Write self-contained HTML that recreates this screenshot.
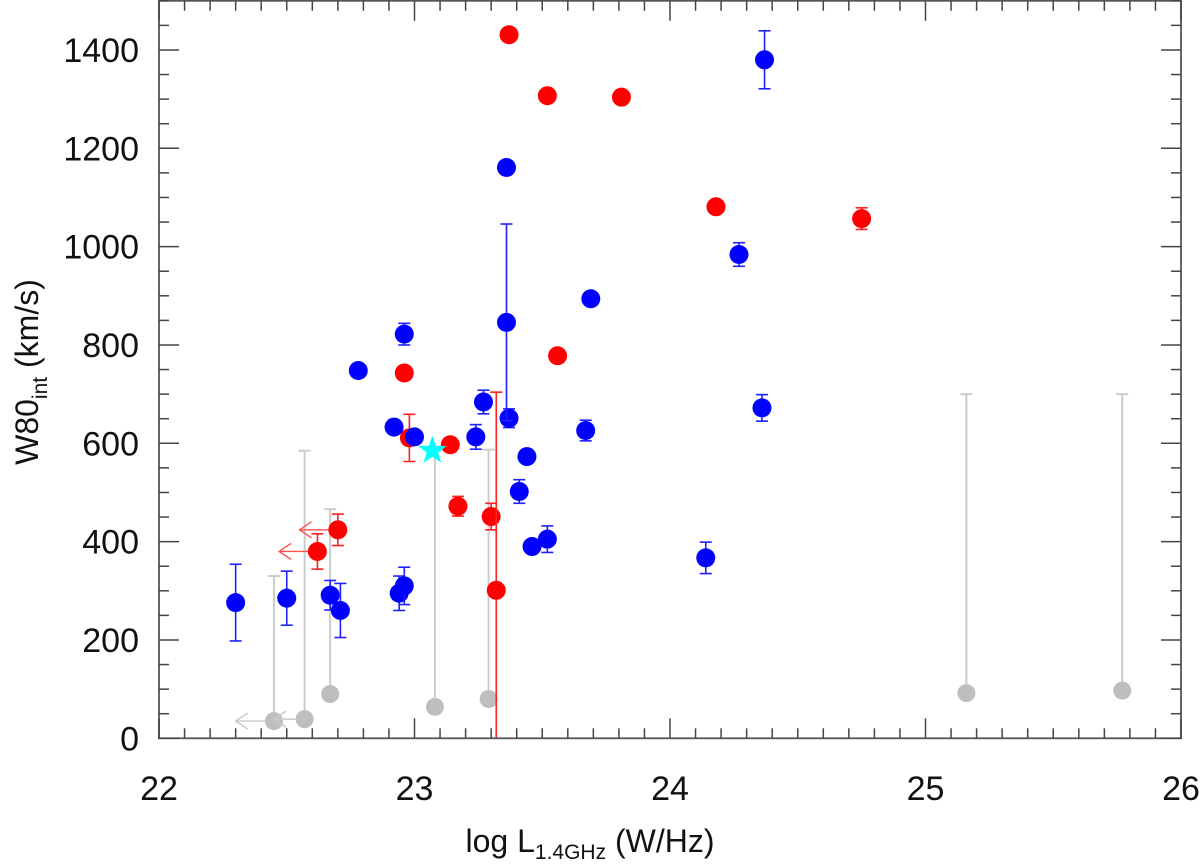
<!DOCTYPE html>
<html><head><meta charset="utf-8"><style>
body{margin:0;background:#fff;}
svg{display:block;font-family:"Liberation Sans",Arial,sans-serif;}
</style></head><body>
<svg id="chart" width="1200" height="866" viewBox="0 0 1200 866">
<g id="marks"></g>
<g id="axes"></g>
<text x="590" y="852" font-size="32" text-anchor="middle" fill="#111">log L<tspan font-size="21" dy="7">1.4GHz</tspan><tspan dy="-7"> (W/Hz)</tspan></text>
<text transform="translate(38,372) rotate(-90)" font-size="32" text-anchor="middle" fill="#111">W80<tspan font-size="21" dy="9">int</tspan><tspan dy="-9"> (km/s)</tspan></text>
</svg>
<script>
const blueX=[22.30,22.50,22.67,22.71,22.78,22.96,22.92,23.00,23.24,23.27,23.37,23.36,23.44,23.41,23.46,23.52,22.94,22.96,23.67,24.14,23.36,23.69,24.27,24.37,24.36];
const blueY=[276,285,291,260,748,822,633,613,613,684,651,846,573,502,390,405,295,310,626,367,1161,894,984,1380,672];
const blueErr=[78,55,30,55,0,22,12,0,25,24,19,200,0,24,12,27,35,38,21,32,0,0,24,59,27];
const redX=[22.96,22.98,23.14,23.17,23.30,23.32,22.70,22.62,23.37,23.52,23.81,24.18,23.56,24.75];
const redY=[743,611,597,472,451,301,424,380,1431,1307,1304,1081,778,1057];
const redErr=[0,48,0,20,27,403,32,36,0,0,0,0,0,22];
const redLimitTo=[0,0,0,0,0,0,22.55,22.47,0,0,0,0,0,0];
const grayX=[22.45,22.57,22.67,23.08,23.29,25.16,25.77];
const grayY=[35,39,90,64,80,92,97];
const grayUpper=[330,585,466,585,587,700,700];
const grayLimitTo=[22.30,22.45,0,0,0,0,0];
const starX=[23.07];
const starY=[585];
const xTicks=[22,23,24,25,26];
const yTicks=[0,200,400,600,800,1000,1200,1400];

const X0=159,X1=1181,Y0=738.3,Y1=0.8;
const xs=v=>X0+(v-22)/4*(X1-X0);
const ys=v=>Y0-(v-0)/1500*(Y0-Y1);
const NS="http://www.w3.org/2000/svg";
const marks=document.getElementById('marks'), axes=document.getElementById('axes');
function mk(tag,attrs,parent){const e=document.createElementNS(NS,tag);for(const k in attrs)e.setAttribute(k,attrs[k]);parent.appendChild(e);return e;}
function ebar(x,lo,hi,col,cap,name,w){
  const g=mk('g',{},marks);
  
  
  mk('line',{x1:xs(x),x2:xs(x),y1:ys(Math.max(lo,0)),y2:ys(hi),stroke:col,'stroke-width':w||1.6},g);
  mk('line',{x1:xs(x)-6,x2:xs(x)+6,y1:ys(hi),y2:ys(hi),stroke:col,'stroke-width':w||1.6},g);
  if(cap&&lo>0)mk('line',{x1:xs(x)-6,x2:xs(x)+6,y1:ys(lo),y2:ys(lo),stroke:col,'stroke-width':1.6},g);
}
function arrow(x,y,to,col,name){
  const g=mk('g',{},marks);
  
  
  const a=xs(to),b=xs(x),yy=ys(y);
  mk('line',{x1:a,x2:b,y1:yy,y2:yy,stroke:col,'stroke-width':1.4},g);
  mk('polyline',{points:`${a+12},${yy-8} ${a},${yy} ${a+12},${yy+8}`,fill:'none',stroke:col,'stroke-width':1.4},g);
}
for(let i=0;i<grayX.length;i++){
  ebar(grayX[i],grayY[i],grayUpper[i],'#cccccc',false,'gray-upper-bar',2);
  if(grayLimitTo[i])arrow(grayX[i],grayY[i],grayLimitTo[i],'#c8c8c8','gray-limit-arrow');
  const c=mk('circle',{cx:xs(grayX[i]),cy:ys(grayY[i]),r:9,fill:'#bebebe'},marks);
  
  
}
for(let i=0;i<redX.length;i++){
  if(redErr[i])ebar(redX[i],redY[i]-redErr[i],redY[i]+redErr[i],'#ff2020',true,'red-error-bar');
  if(redLimitTo[i])arrow(redX[i],redY[i],redLimitTo[i],'#ff5050','red-limit-arrow');
  const c=mk('circle',{cx:xs(redX[i]),cy:ys(redY[i]),r:9.5,fill:'#ff0000'},marks);
  
  
}
for(let i=0;i<blueX.length;i++){
  if(blueErr[i])ebar(blueX[i],blueY[i]-blueErr[i],blueY[i]+blueErr[i],'#2020ff',true,'blue-error-bar');
  const c=mk('circle',{cx:xs(blueX[i]),cy:ys(blueY[i]),r:9.5,fill:'#0000ff'},marks);
  
  
}
for(let i=0;i<starX.length;i++){
  const cx=xs(starX[i]),cy=ys(starY[i]);let p=[];
  for(let k=0;k<10;k++){const r=k%2?6:15,a=-Math.PI/2+k*Math.PI/5;p.push((cx+r*Math.cos(a)).toFixed(1)+','+(cy+r*Math.sin(a)).toFixed(1));}
  const s=mk('polygon',{points:p.join(' '),fill:'#00ffff'},marks);
  
  
}
const fr=mk('rect',{x:X0,y:Y1,width:X1-X0,height:Y0-Y1,fill:'none',stroke:'#555','stroke-width':1.8},axes);


for(let v=22;v<=26.0001;v+=0.1){
  const major=Math.abs(v-Math.round(v))<1e-6, L=major?20:10, x=xs(v);
  mk('line',{x1:x,x2:x,y1:Y0,y2:Y0-L,stroke:'#444','stroke-width':1.5},axes);
  mk('line',{x1:x,x2:x,y1:Y1,y2:Y1+L,stroke:'#444','stroke-width':1.5},axes);
}
for(let v=0;v<=1500;v+=50){
  const major=v%200===0, L=major?20:10, y=ys(v);
  mk('line',{x1:X0,x2:X0+L,y1:y,y2:y,stroke:'#444','stroke-width':1.5},axes);
  mk('line',{x1:X1,x2:X1-L,y1:y,y2:y,stroke:'#444','stroke-width':1.5},axes);
}
xTicks.forEach(v=>{
  const t=mk('text',{x:xs(v),y:800,'font-size':34,'text-anchor':'middle',fill:'#111'},axes);
  t.textContent=v;
  
  
});
yTicks.forEach(v=>{
  const t=mk('text',{x:139,y:ys(v)+12,'font-size':34,'text-anchor':'end',fill:'#111'},axes);
  t.textContent=v;
  
  
});
</script>
</body></html>
